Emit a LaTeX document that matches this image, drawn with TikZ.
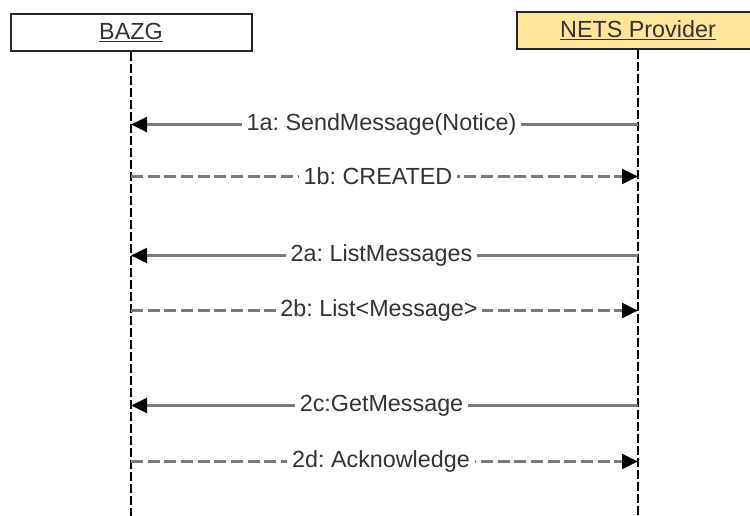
\documentclass[tikz,border=0pt]{standalone}
\usepackage{fontspec}
\setmainfont{Liberation Sans}
\frenchspacing
\usetikzlibrary{arrows.meta}
\definecolor{hdrfill}{HTML}{FFE599}
\definecolor{linegray}{HTML}{7A7A7A}
\definecolor{txtcol}{HTML}{333333}
\tikzset{
  actorbox/.style={draw=black!85, line width=1.5pt, minimum height=37*0.75pt, inner sep=0pt,
    font=\fontsize{17.5pt}{20pt}\selectfont, text=txtcol},
  lifeline/.style={draw=black, line width=1.5pt, dash pattern=on 6.5pt off 2.5pt},
  msg/.style={draw=linegray, line width=2.25pt, -{Triangle[length=12pt,width=11pt,fill=black,color=black]}},
  reply/.style={msg, dash pattern=on 9pt off 3.5pt},
  msglabel/.style={fill=white, text=txtcol, inner xsep=3.5pt, inner ysep=1pt,
    font=\fontsize{17.5pt}{20pt}\selectfont},
}
\begin{document}
\begin{tikzpicture}[x=0.75pt,y=-0.75pt]
\useasboundingbox (0,0) rectangle (750,516);
% actors
\node[actorbox, fill=white, minimum width=241*0.75pt] (bazg) at (131,32.5) {\underline{BAZG}};
\node[actorbox, fill=hdrfill, minimum width=242*0.75pt] (nets) at (638,30.5) {\underline{NETS Provider}};
% lifeline ends
\coordinate (bend) at (131,518);
\coordinate (nend) at (638,518);
\draw[lifeline] (bazg.south) -- (bend);
\draw[lifeline] (nets.south) -- (nend);
% message anchor points
\foreach \n/\y in {1a/124.5,1b/176.5,2a/255.5,2b/310.5,2c/405.5,2d/461.5}{
  \coordinate (b\n) at (131,\y);
  \coordinate (n\n) at (638,\y);
}
\draw[msg] (n1a) -- (b1a);
\node[msglabel] (l1a) at (381.5,124.5) {1a: SendMessage(Notice)};
\draw[reply] (b1b) -- (n1b);
\node[msglabel] (l1b) at (378,176.5) {1b: CREATED};
\draw[msg] (n2a) -- (b2a);
\node[msglabel] (l2a) at (381.5,255.5) {2a: ListMessages};
\draw[reply] (b2b) -- (n2b);
\node[msglabel] (l2b) at (379,310.5) {2b: List<Message>};
\draw[msg] (n2c) -- (b2c);
\node[msglabel] (l2c) at (381.5,405.5) {2c:GetMessage};
\draw[reply] (b2d) -- (n2d);
\node[msglabel] (l2d) at (381,461.5) {2d: Acknowledge};
\end{tikzpicture}
\end{document}
